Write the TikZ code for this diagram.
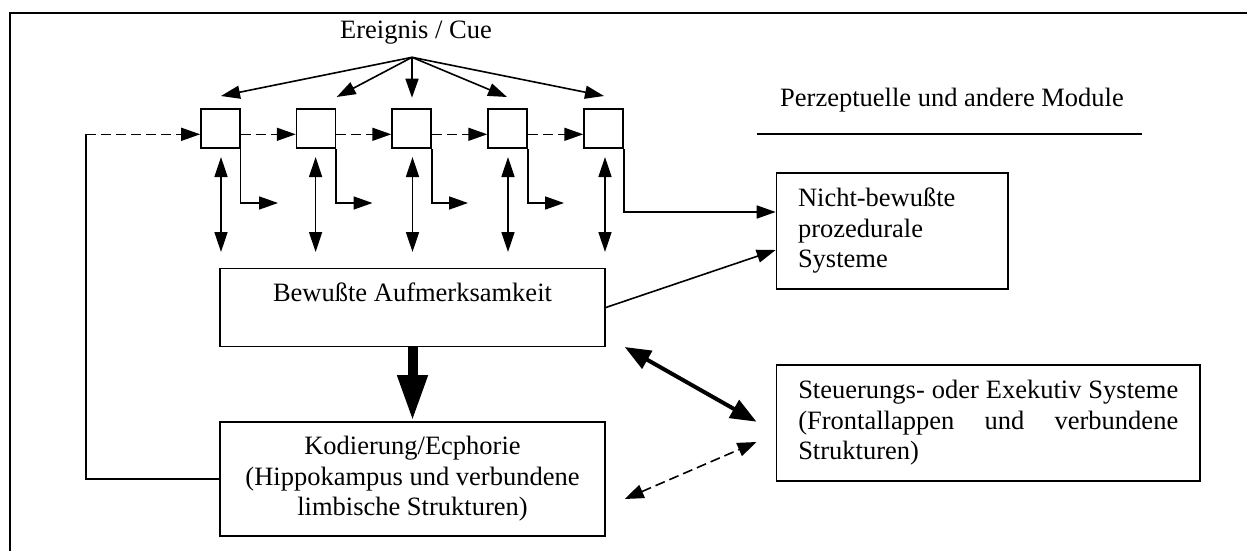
\documentclass[tikz,border=0pt]{standalone}
\usepackage{fontspec}
\setmainfont{Liberation Serif}
\usetikzlibrary{arrows.meta}
\begin{document}
\begin{tikzpicture}[x=1pt,y=-1pt,
  every node/.style={font=\fontsize{26.5}{30.5}\selectfont},
  frame/.style={line width=1.8pt},
  box/.style={draw,line width=1.6pt,inner sep=0pt},
  sq/.style={draw,line width=1.5pt,minimum width=39pt,minimum height=39pt,inner sep=0pt},
  conn/.style={line width=1.6pt},
  tipa/.style={-{Triangle[length=19pt,width=13pt]}},
  dtip/.style={{Triangle[length=20pt,width=13pt]}-{Triangle[length=20pt,width=13pt]}},
  dsh/.style={dash pattern=on 10pt off 5pt},
]
\useasboundingbox (0,0) rectangle (1247,551);
\draw[frame] (10,551) -- (10,13) -- (1247,13);

% top label and cue source
\node[inner sep=0pt] (cue) at (416,33) {Ereignis / Cue};
\coordinate (src) at (412,57.3);

% small module boxes
\node[sq] (b1) at (220.4,128.5) {};
\node[sq] (b2) at (316,128.5) {};
\node[sq] (b3) at (411.5,128.5) {};
\node[sq] (b4) at (507.5,128.5) {};
\node[sq] (b5) at (603.5,128.5) {};

% big boxes
\node[box,minimum width=385pt,minimum height=78pt,align=center] (bew) at (412.5,307.5) {Bewußte Aufmerksamkeit\\\mbox{}};
\node[box,minimum width=385pt,minimum height=114pt,align=center] (kod) at (412.5,479) {Kodierung/Ecphorie\\(Hippokampus und verbundene\\limbische Strukturen)};
\node[box,minimum height=116pt,text width=188.5pt,inner xsep=21.5pt,align=left] (nb) at (892.25,231) {Nicht-bewußte\\prozedurale\\Systeme};
\node[box,minimum height=116pt,text width=380pt,inner xsep=21.75pt,align=left] (st) at (988.25,423) {\makebox[380pt][l]{Steuerungs-\hfill oder\hfill Exekutiv\hfill Systeme}\\\makebox[380pt][l]{(Frontallappen\hfill und\hfill verbundene}\\Strukturen)};

\node[inner sep=0pt] (pm) at (952,100) {Perzeptuelle und andere Module};
\draw[conn] (757,134) -- (1142,134);

% cue arrows
\coordinate (t1) at (221,96);
\coordinate (t2) at (336.7,97);
\coordinate (t3) at (412,97.7);
\coordinate (t4) at (507,97);
\coordinate (t5) at (604,96);
\foreach \t in {t1,t2,t3,t4,t5}{\draw[conn,tipa] (src) -- (\t);}

% dashed chain
\coordinate (fb) at (86,134.3);
\draw[conn] (kod.west) -| (fb);
\draw[conn,dsh,tipa] (fb) -- ([yshift=-5.8pt]b1.west);
\draw[conn,dsh,tipa] ([yshift=-5.8pt]b1.east) -- ([yshift=-5.8pt]b2.west);
\draw[conn,dsh,tipa] ([yshift=-5.8pt]b2.east) -- ([yshift=-5.8pt]b3.west);
\draw[conn,dsh,tipa] ([yshift=-5.8pt]b3.east) -- ([yshift=-5.8pt]b4.west);
\draw[conn,dsh,tipa] ([yshift=-5.8pt]b4.east) -- ([yshift=-5.8pt]b5.west);

% vertical double arrows
\foreach \x [count=\i] in {221,315.6,412.5,508,605}{
  \coordinate (u\i) at (\x,157);
  \coordinate (d\i) at (\x,252);
  \draw[conn,dtip] (u\i) -- (d\i);
}

% L-shaped outputs
\coordinate (r1) at (278,203);
\coordinate (r2) at (372.5,203);
\coordinate (r3) at (468,203);
\coordinate (r4) at (564,203);
\draw[conn,tipa] (b1.south east) |- (r1);
\draw[conn,tipa] (b2.south east) |- (r2);
\draw[conn,tipa] (b3.south east) |- (r3);
\draw[conn,tipa] (b4.south east) |- (r4);
\coordinate (h5) at (0,212);
\draw[conn,tipa] (b5.south east) |- (nb.west |- h5);
\coordinate (h6) at (0,250);
\draw[conn,tipa] (bew.east) -- (nb.west |- h6);

% thick arrow
\draw[line width=10pt,-{Triangle[length=46pt,width=28pt]}] (bew.south) -- (kod.north);

% executive connections
\coordinate (e1) at (624.7,347);
\coordinate (e2) at (756.5,421.7);
\draw[line width=4pt,{Triangle[length=26pt,width=20pt]}-{Triangle[length=26pt,width=20pt]}] (e1) -- (e2);
\coordinate (e3) at (624.7,499);
\coordinate (e4) at (756.5,442);
\draw[conn,dsh,{Triangle[length=19pt,width=14pt]}-{Triangle[length=19pt,width=14pt]}] (e3) -- (e4);
\end{tikzpicture}
\end{document}
